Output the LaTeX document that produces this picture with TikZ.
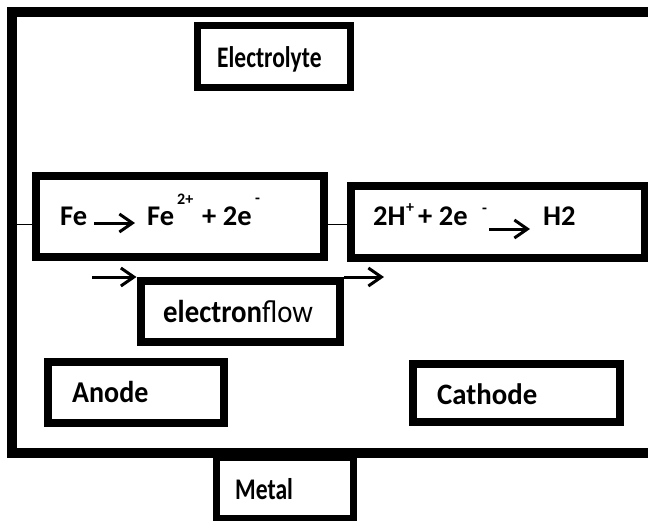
\documentclass[tikz,border=0pt]{standalone}
\usepackage{fontspec}
\usepackage{graphicx}
\setmainfont{Carlito}
\usetikzlibrary{arrows.meta}
\newcommand{\vstretch}[2]{\scalebox{1}[#1]{#2}}
\begin{document}
\begin{tikzpicture}[x=1pt,y=-1pt,
  box/.style={draw=black, line width=8pt, inner sep=0pt},
  lbl/.style={anchor=base west, inner sep=0pt, font=\fontsize{#1}{#1}\selectfont\bfseries},
  lbl/.default=28.5,
  suplbl/.style={anchor=base west, inner sep=0pt, font=\fontsize{16}{18}\selectfont\bfseries},
  rarr/.style={line width=3pt, -{Straight Barb[length=13pt,width=18pt]}},
  thinline/.style={line width=1pt}]
\useasboundingbox (0,0) rectangle (648,520);
% outer frame (right side beyond the picture)
\draw[line width=10pt] (680,12) -- (12,12) -- (12,452.5) -- (680,452.5);
\coordinate (fl) at (12,224);
% boxes
\node[box, line width=7pt, minimum width=153pt, minimum height=61.5pt] (el) at (273.5,56.25) {};
\node[box, minimum width=288pt, minimum height=81.5pt] (fe) at (180,216.25) {};
\node[box, minimum width=294pt, minimum height=72.5pt] (h) at (497.5,221.75) {};
\node[box, minimum width=199.5pt, minimum height=60.5pt] (ef) at (240.25,311.25) {};
\node[box, minimum width=176pt, minimum height=61.5pt] (an) at (136,392.25) {};
\node[box, minimum width=207.5pt, minimum height=58.5pt] (ca) at (516.25,392.75) {};
\node[box, line width=7pt, minimum width=137.5pt, minimum height=60.5pt] (me) at (284.75,487.75) {};
% connectors
\draw[thinline] (fl) -- (fl -| fe.west);
\draw[thinline] (fe.east |- fl) -- (h.west |- fl);
\coordinate (ea) at (92,277);
\draw[rarr] (ea) -- (ef.north west);
\coordinate (eb) at (384,277);
\draw[rarr] (ef.north east) -- (eb);
% texts
\node[lbl=23.5] (t1) at (217,67) {\vstretch{1.27}{Electrolyte}};
\node[lbl] (t2) at (60,225) {Fe};
\coordinate (a1) at (94,223); \coordinate (a2) at (135,223);
\draw[rarr] (a1) -- (a2);
\node[lbl] (t3) at (147,225) {Fe};
\node[suplbl] (t4) at (177,204) {2+};
\node[lbl] (t5) at (202,225) {+ 2e};
\node[suplbl] (t6) at (255,203) {-};
\node[lbl] (t7) at (373,225) {2H};
\node[suplbl] (t8) at (406,212) {+};
\node[lbl] (t9) at (418,225) {+ 2e};
\node[suplbl] (t10) at (482,213) {-};
\coordinate (b1) at (489,229); \coordinate (b2) at (530,229);
\draw[rarr] (b1) -- (b2);
\node[lbl] (t11) at (543,225) {H2};
\node[lbl=28.8] (t12) at (163,322) {\vstretch{1.1}{electron\mdseries flow}};
\node[lbl=28] (t13) at (72,402) {\vstretch{1.08}{Anode}};
\node[lbl=28.8] (t14) at (437,404) {\vstretch{1.03}{Cathode}};
\node[lbl=23.6] (t15) at (235,499) {\vstretch{1.27}{Metal}};
\end{tikzpicture}
\end{document}
